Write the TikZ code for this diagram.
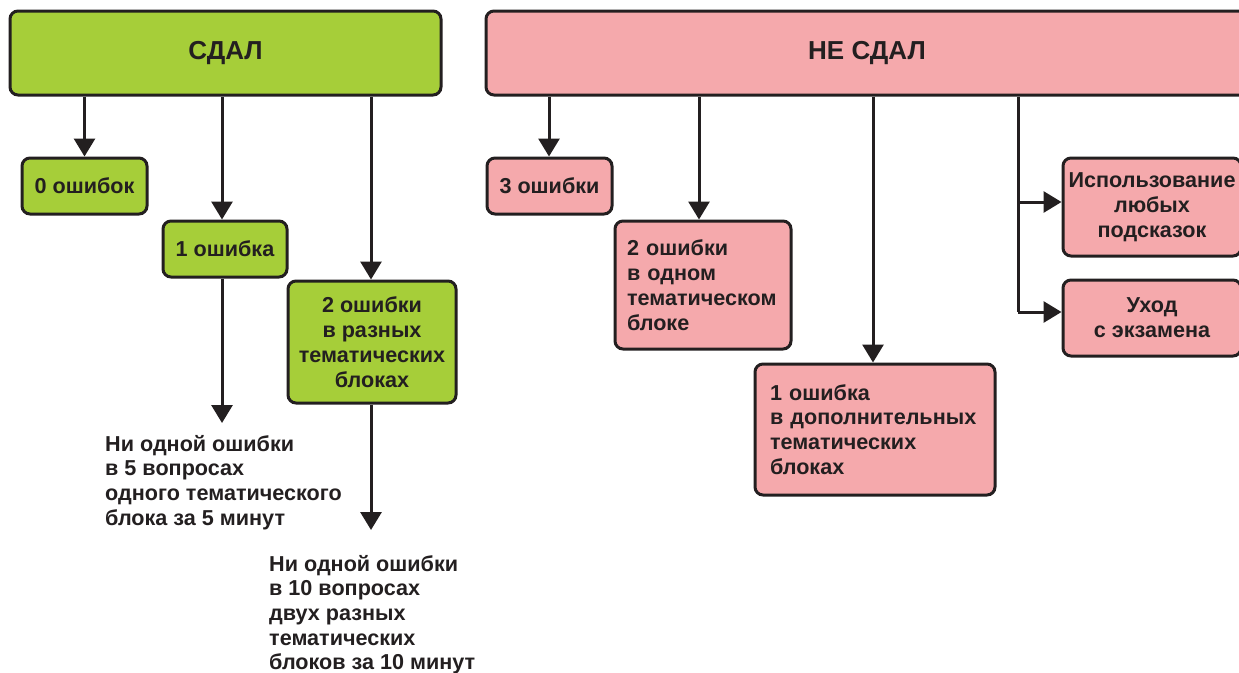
\documentclass[tikz,border=0pt]{standalone}
\usepackage{fontspec}
\setmainfont{Liberation Sans}
\usetikzlibrary{arrows.meta,calc}
\definecolor{gfill}{RGB}{166,206,57}
\definecolor{pfill}{RGB}{245,169,172}
\definecolor{linec}{RGB}{35,31,32}
\tikzset{
  box/.style={draw=linec, line width=3pt, rounded corners=8pt, text=linec,
    font=\bfseries\fontsize{21.6}{24.8}\selectfont, inner sep=0pt},
  gbox/.style={box, fill=gfill},
  pbox/.style={box, fill=pfill},
  head/.style={font=\bfseries\fontsize{26}{30}\selectfont},
  plain/.style={text=linec, font=\bfseries\fontsize{21.6}{24.6}\selectfont,
    inner sep=0pt, align=left, anchor=north west},
  arr/.style={draw=linec, line width=3pt, -{Triangle[width=21pt,length=18pt]}},
  ln/.style={draw=linec, line width=3pt}
}
\begin{document}
\begin{tikzpicture}[x=1pt,y=-1pt]
\useasboundingbox (0,0) rectangle (1239,672);
\clip (0,0) rectangle (1239,672);
% top boxes
\node[gbox, head, minimum width=431pt, minimum height=84pt] (sdal) at (225.5,53) {СДАЛ};
\node[pbox, head, minimum width=762pt, minimum height=84pt] (nesdal) at (867,53) {НЕ СДАЛ};
% green side
\node[gbox, minimum width=125pt, minimum height=56pt] (zero) at (84.5,186) {0 ошибок};
\node[gbox, minimum width=124pt, minimum height=56pt] (one) at (225,249) {1 ошибка};
\node[gbox, minimum width=168pt, minimum height=122pt, align=center] (two) at (372,342)
  {2 ошибки\\в разных\\тематических\\блоках};
\node[plain] (t1) at (105,435) {Ни одной ошибки\\в 5 вопросах\\одного тематического\\блока за 5 минут};
\node[plain] (t2) at (269,555) {Ни одной ошибки\\в 10 вопросах\\двух разных\\тематических\\блоков за 10 минут};
\coordinate (c1) at (222,423);
\coordinate (c2) at (371,530);
\draw[arr] (sdal.south -| zero.north) -- (zero.north);
\draw[arr] (sdal.south -| c1) -- (one.north -| c1);
\draw[arr] (sdal.south -| c2) -- (two.north -| c2);
\draw[arr] (one.south -| c1) -- (c1);
\draw[arr] (two.south -| c2) -- (c2);
% pink side
\node[pbox, minimum width=125pt, minimum height=56pt] (three) at (549.5,186) {3 ошибки};
\node[pbox, minimum width=176pt, minimum height=128pt, text width=152pt, align=left] (ptwo) at (703,285)
  {2 ошибки\\в одном\\тематическом\\блоке};
\node[pbox, minimum width=240pt, minimum height=131pt, text width=210pt, align=left] (pone) at (875,429.5)
  {1 ошибка\\в дополнительных\\тематических\\блоках};
\node[pbox, minimum width=178pt, minimum height=98pt, align=center] (isp) at (1152,207)
  {Использование\\любых\\подсказок};
\node[pbox, minimum width=178pt, minimum height=76pt, align=center] (uhod) at (1152,318)
  {Уход\\с экзамена};
\coordinate (v3) at (549,0);
\coordinate (v2) at (699,0);
\coordinate (v1) at (873,0);
\coordinate (v4) at (1018,0);
\draw[arr] (nesdal.south -| v3) -- (three.north -| v3);
\draw[arr] (nesdal.south -| v2) -- (ptwo.north -| v2);
\draw[arr] (nesdal.south -| v1) -- (pone.north -| v1);
\draw[ln] (nesdal.south -| v4) -- ([yshift=6pt]uhod.west -| v4);
\draw[arr] ([yshift=5pt]isp.west -| v4) -- ([yshift=5pt]isp.west);
\draw[arr] ([yshift=6pt]uhod.west -| v4) -- ([yshift=6pt]uhod.west);
\end{tikzpicture}
\end{document}
